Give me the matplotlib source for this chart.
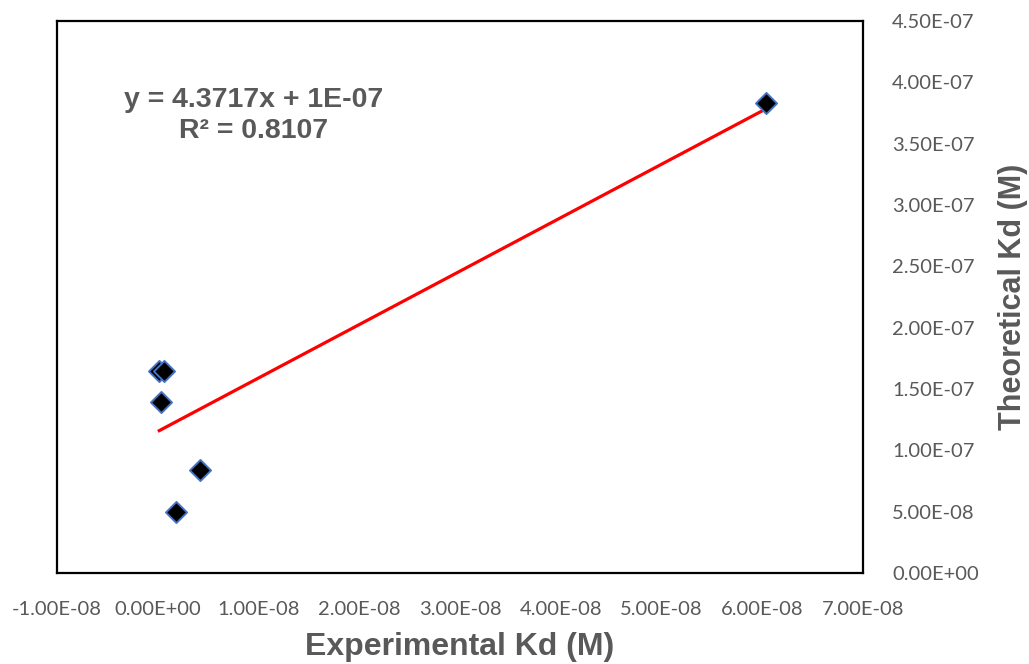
import matplotlib
matplotlib.use("Agg")
import matplotlib.pyplot as plt
import numpy as np

# values
exp_kd = [0.15e-9, 0.65e-9, 0.29e-9, 4.2e-9, 1.78e-9, 60.4e-9]
theo_kd = [164.9e-9, 164.9e-9, 139.2e-9, 84.0e-9, 50.0e-9, 383.4e-9]
eq_text = "y = 4.3717x + 1E-07\nR² = 0.8107"

xticks = np.arange(-1e-8, 7.01e-8, 1e-8)
yticks = np.arange(0, 4.51e-7, 5e-8)

grey = "#595959"

fig = plt.figure(figsize=(10.29, 6.64), dpi=100)
ax = fig.add_axes([0.0554, 0.137, 0.7833, 0.8314])

# trendline over the data range
slope, icpt = np.polyfit(exp_kd, theo_kd, 1)
xs = np.array([min(exp_kd), max(exp_kd)])
ax.plot(xs, slope * xs + icpt, color="red", lw=2.3, zorder=2)

ax.scatter(exp_kd, theo_kd, marker="D", s=115, c="black",
           edgecolors="#4472C4", linewidths=1.4, zorder=3)

ax.set_xlim(-1e-8, 7e-8)
ax.set_ylim(0, 4.5e-7)
ax.set_xticks(xticks)
ax.set_yticks(yticks)
ax.set_xticklabels(["%.2E" % v if abs(v) > 1e-20 else "0.00E+00" for v in xticks],
                   fontname="Lato", fontsize=14.5, color=grey)
ax.set_yticklabels(["%.2E" % v if v > 1e-20 else "0.00E+00" for v in yticks],
                   fontname="Lato", fontsize=14.5, color=grey)
ax.yaxis.tick_right()
ax.yaxis.set_label_position("right")
ax.tick_params(axis="x", length=0, pad=20)
ax.tick_params(axis="y", length=0, pad=21)

for s in ax.spines.values():
    s.set_color("black")
    s.set_linewidth(1.6)

ax.set_xlabel("Experimental Kd (M)", fontname="Liberation Sans", fontsize=23,
              fontweight="bold", color=grey, labelpad=10)
ax.set_ylabel("Theoretical Kd (M)", fontname="Liberation Sans", fontsize=22,
              fontweight="bold", color=grey, labelpad=14)

ax.text(0.244, 0.828, eq_text, transform=ax.transAxes, ha="center", va="center",
        fontname="Liberation Sans", fontsize=20.5, fontweight="bold", color=grey,
        linespacing=1.25)

fig.savefig("out.png", dpi=100)
